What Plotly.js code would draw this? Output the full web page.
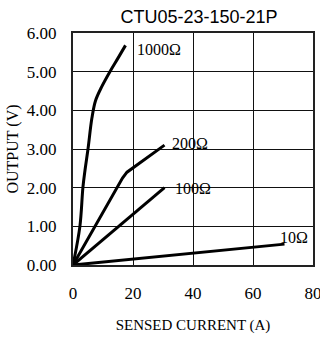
<!DOCTYPE html>
<html><head><meta charset="utf-8">
<script src="https://cdn.plot.ly/plotly-3.0.1.min.js"></script>
<style>html,body{margin:0;padding:0;background:#fff}#chart{width:320px;height:338px}</style>
</head><body><div id="chart"></div>
<script>
const chartTitle = "CTU05-23-150-21P";
const xTitle = "SENSED CURRENT (A)";
const yTitle = "OUTPUT (V)";
const seriesNames = ["1000Ω", "200Ω", "100Ω", "10Ω"];
const xTicks = [0, 20, 40, 60, 80];
const yTicks = [0, 1, 2, 3, 4, 5, 6];
const x1000 = [0, 2.3, 3.3, 4, 5, 6.3, 7.5, 9.5, 12.3, 15, 17.5];
const y1000 = [0, 1.0, 2.0, 2.45, 3.0, 3.8, 4.25, 4.6, 5.0, 5.35, 5.68];
const x200 = [0, 16.5, 18, 30.5];
const y200 = [0, 2.25, 2.4, 3.1];
const x100 = [0, 30.5];
const y100 = [0, 2.0];
const x10 = [0, 70.5];
const y10 = [0, 0.54];
const labelX = [20.5, 32.2, 33.2, 68.2];
const labelY = [5.58, 3.15, 1.99, 0.70];

const xMin = xTicks[0], xMax = xTicks[xTicks.length - 1];
const yMin = yTicks[0], yMax = yTicks[yTicks.length - 1];

const xs = [x1000, x200, x100, x10];
const ys = [y1000, y200, y100, y10];
const curveTraces = xs.map((x, i) => ({
  x: x, y: ys[i], mode: "lines", type: "scatter", name: seriesNames[i],
  line: {color: "#000", width: 3, shape: i === 0 ? "spline" : "linear"}, hoverinfo: "skip"
}));
const annotations = seriesNames.map((n, i) => ({
  x: labelX[i], y: labelY[i], xref: "x", yref: "y", text: n, showarrow: false,
  xanchor: "left", yanchor: "middle",
  font: {family: "Liberation Serif", size: 16, color: "#000"}
}));
const layout = {
  width: 320, height: 338,
  margin: {l: 73, r: 7, t: 33, b: 73},
  showlegend: false,
  title: {text: chartTitle, x: 0.622, xanchor: "center", y: 0.95, yanchor: "middle",
    font: {family: "Liberation Sans", size: 18, color: "#000"}},
  xaxis: {
    range: [xMin, xMax], tickvals: xTicks, ticks: "outside", ticklen: 12, tickcolor: "rgba(0,0,0,0)",
    showgrid: true, gridcolor: "#111", gridwidth: 1, ticklabeloverflow: "allow",
    showline: true, linecolor: "#222", linewidth: 2, mirror: true,
    zeroline: false,
    tickfont: {family: "Liberation Serif", size: 17, color: "#000"},
    title: {text: xTitle, font: {family: "Liberation Serif", size: 15, color: "#000"}, standoff: 17}
  },
  yaxis: {
    range: [yMin, yMax], tickvals: yTicks, tickformat: ".2f", ticks: "outside", ticklen: 11, tickcolor: "rgba(0,0,0,0)",
    showgrid: true, gridcolor: "#111", gridwidth: 1,
    showline: true, linecolor: "#222", linewidth: 2, mirror: true,
    zeroline: false,
    tickfont: {family: "Liberation Serif", size: 17, color: "#000"},
    title: {text: yTitle, font: {family: "Liberation Serif", size: 16, color: "#000"}, standoff: 4}
  },
  annotations: annotations
};
Plotly.newPlot("chart", curveTraces, layout, {displayModeBar: false});
</script></body></html>
